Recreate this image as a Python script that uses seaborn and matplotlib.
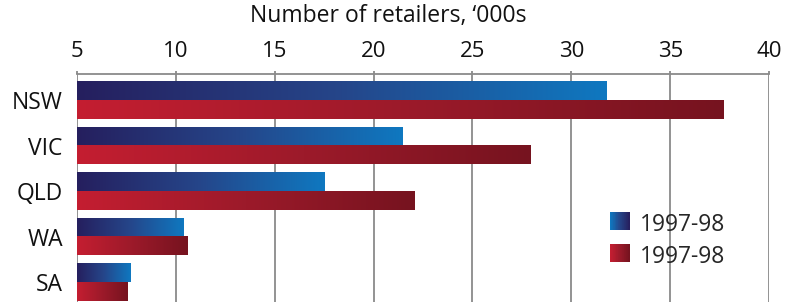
import numpy as np, pandas as pd, matplotlib
matplotlib.use("Agg")
import matplotlib.pyplot as plt
import seaborn as sns
from matplotlib.colors import LinearSegmentedColormap
from matplotlib.patches import Rectangle
from matplotlib.legend_handler import HandlerBase

STATES=["NSW","VIC","QLD","WA","SA"]
SERIES_A=[31.75,21.45,17.5,10.4,7.7]
SERIES_B=[37.65,27.9,22.05,10.6,7.55]
SERIES=["a","b"]
LEGEND_LABELS=["1997-98","1997-98"]
XTICKS=[5,10,15,20,25,30,35,40]
XLABEL="Number of retailers, \u2018000s"

BLUE=LinearSegmentedColormap.from_list("blue",["#261f5e","#25468a","#0f78c0"])
RED=LinearSegmentedColormap.from_list("red",["#c41e31","#9c1a2a","#76131f"])
GRID="#8a8a8a"

class GradHandler(HandlerBase):
    def __init__(self,cmap,reverse=False):
        super().__init__(); self.cmap=cmap; self.reverse=reverse
    def create_artists(self,legend,orig_handle,xd,yd,w,h,fontsize,trans):
        n=30; arts=[]
        for i in range(n):
            t=i/(n-1); c=self.cmap(1-t if self.reverse else t)
            arts.append(Rectangle((xd+w*i/n,yd),w/n*1.1,h,fc=c,ec="none",transform=trans))
        return arts

sns.set_theme(style="white")
plt.rcParams["font.family"]=["Open Sans","DejaVu Sans"]

df=pd.DataFrame({"state":STATES*2,"value":SERIES_A+SERIES_B,
                 "series":[SERIES[0]]*len(STATES)+[SERIES[1]]*len(STATES)})

fig=plt.figure(figsize=(7.88,3.02),dpi=100)
ax=fig.add_axes([76.7/788,0,692.6/788,1-74.3/302])
sns.barplot(data=df,x="value",y="state",hue="series",orient="h",width=0.81,
            ax=ax,legend=False,palette=["#1a4a8a","#a01b2b"],errorbar=None)

grad=np.linspace(0,1,256).reshape(1,-1)
for p in ax.patches:
    h=p.get_height()
    if h<=0: continue
    y0=p.get_y(); x1=p.get_x()+p.get_width()
    yc=y0+h/2
    cmap=BLUE if yc<round(yc) else RED
    ax.imshow(grad,cmap=cmap,aspect="auto",extent=[XTICKS[0],x1,y0+h,y0],zorder=2,interpolation="bilinear")
    p.set_visible(False)

ax.set_xlim(XTICKS[0],XTICKS[-1]); ax.set_ylim(4.43,-0.575)
ax.set_xticks(XTICKS)
ax.xaxis.tick_top()
ax.set_xlabel(""); ax.set_ylabel("")
ax.grid(axis="x",color=GRID,lw=1.3); ax.grid(axis="y",visible=False)
ax.set_axisbelow(True)
for s in ["left","right","bottom"]: ax.spines[s].set_visible(False)
ax.spines["top"].set_color(GRID); ax.spines["top"].set_linewidth(1.3)
ax.tick_params(axis="x",top=True,direction="out",length=2.5,width=1.3,color=GRID,pad=6,labelsize=16,labelcolor="#111111")
ax.tick_params(axis="y",left=False,length=0,pad=10,labelsize=16.5,labelcolor="#111111")
fig.text(388.5/788,1-16/302,XLABEL,ha="center",va="center",fontsize=16.5,color="#111111")

h1=Rectangle((0,0),1,1); h2=Rectangle((0,0),1,1)
ax.legend([h1,h2],LEGEND_LABELS,handler_map={h1:GradHandler(BLUE,True),h2:GradHandler(RED)},
          loc="upper left",bbox_to_anchor=(610/788,1-213/302),bbox_transform=fig.transFigure,
          frameon=False,fontsize=16.5,handlelength=0.85,handleheight=0.85,handletextpad=0.45,
          labelspacing=0.35,borderpad=0,borderaxespad=0)

fig.savefig("out.png",dpi=100)
